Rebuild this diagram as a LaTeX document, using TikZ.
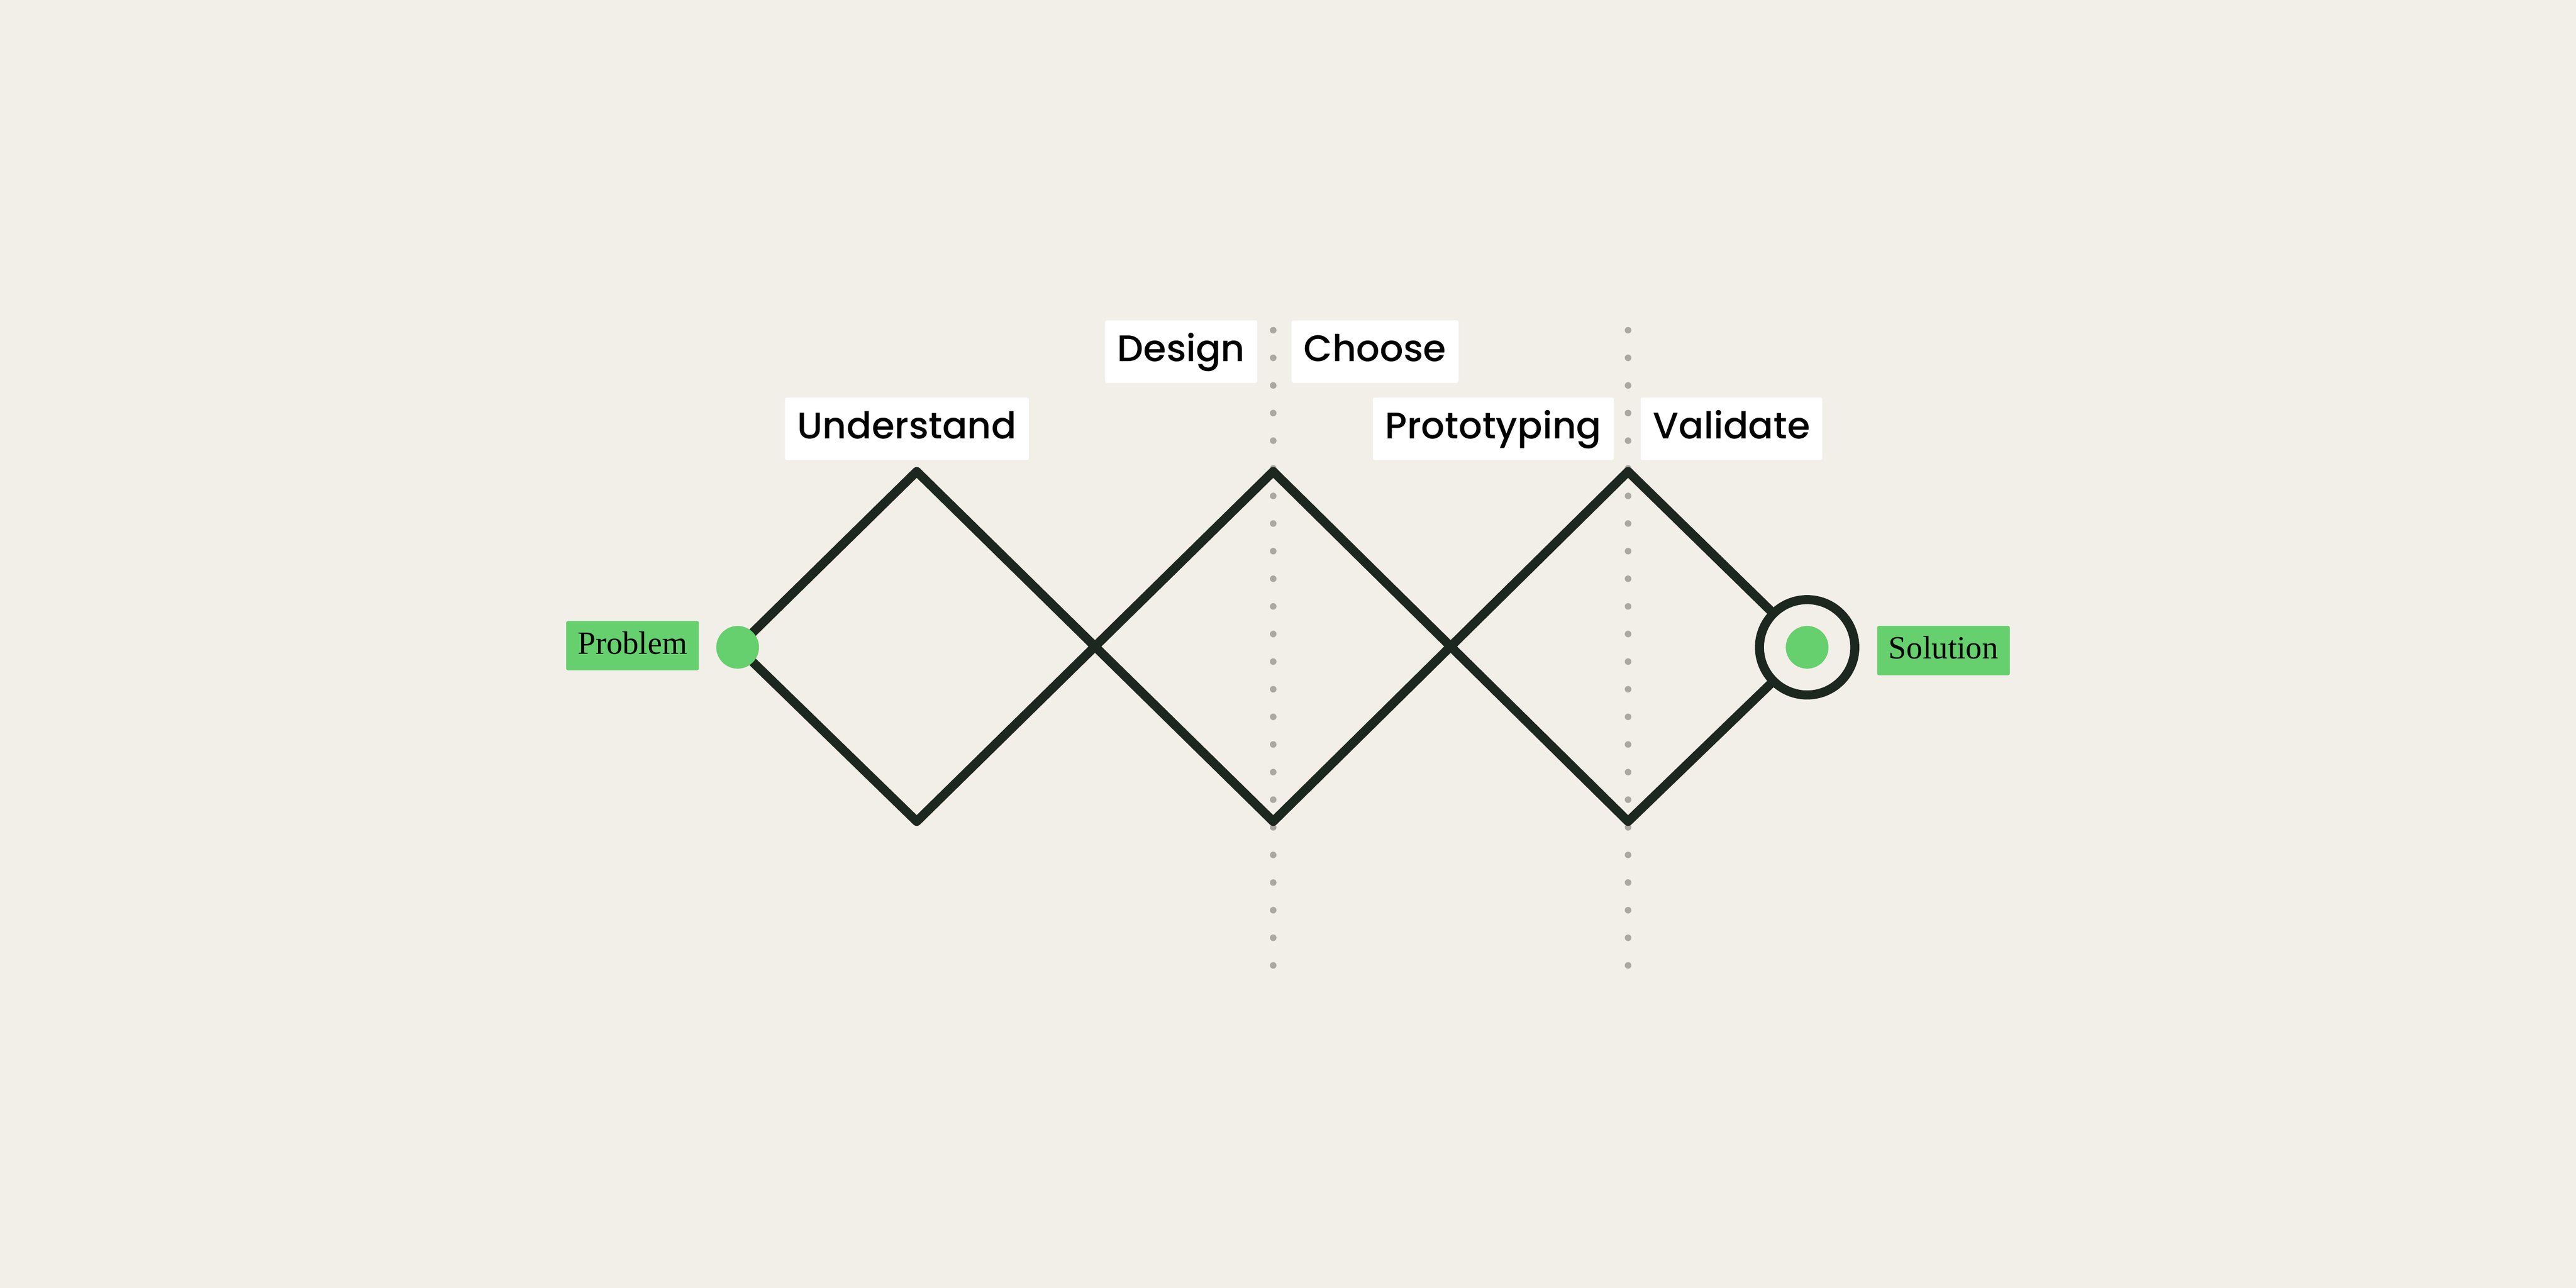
\documentclass[tikz,border=0pt]{standalone}
\usepackage{fontspec}
\newfontfamily\phasefont{Poppins}[UprightFont=* Medium]
\newfontfamily\tagfont{Liberation Serif}
\usepackage{xcolor}
\definecolor{paper}{HTML}{F2EFE8}
\definecolor{ink}{HTML}{1C271F}
\definecolor{leaf}{HTML}{66CF6E}
\definecolor{pebble}{HTML}{ABA8A2}
\tikzset{
  phase/.style={fill=white, rounded corners=0.3pt, inner xsep=0.075cm, inner ysep=0pt, text height=0.16cm, text depth=0.04cm, minimum height=0.38cm, font=\phasefont\fontsize{6.4}{7}\selectfont},
  tag/.style={fill=leaf, rounded corners=0.3pt, inner xsep=0.07cm, inner ysep=0pt, text height=0.13cm, text depth=0.03cm, minimum height=0.30cm, font=\tagfont\fontsize{5.6}{6}\selectfont},
  track/.style={ink, line width=0.055cm, line join=round, line cap=round},
  divider/.style={pebble, line width=0.04cm, line cap=round, dash pattern=on 0pt off 0.168cm}
}
\begin{document}
\begin{tikzpicture}[x=0.01cm, y=-0.01cm]
    \fill[paper] (0,0) rectangle (1568,784);
    \useasboundingbox (0,0) rectangle (1568,784);
    % dotted dividers
    \coordinate (d1t) at (775,201); \coordinate (d1b) at (775,590);
    \coordinate (d2t) at (991,201); \coordinate (d2b) at (991,588);
    \draw[divider] (d1t) -- (d1b);
    \draw[divider] (d2t) -- (d2b);
    % corners of the diamonds
    \coordinate (start) at (449,394);
    \foreach \name/\x in {a/558, b/775, c/991} {
        \coordinate (\name top) at (\x,287);
        \coordinate (\name bot) at (\x,500);
    }
    \node[circle, draw=ink, line width=0.055cm, minimum size=0.58cm, inner sep=0pt] (goal) at (1100,394) {};
    \draw[track] (start) -- (atop) -- (bbot) -- (ctop) -- (goal.135);
    \draw[track] (start) -- (abot) -- (btop) -- (cbot) -- (goal.225);
    % dots
    \fill[leaf] (start) circle (13);
    \fill[leaf] (goal) circle (13);
    % labels
    \node[tag] (problem) at (385,393) {Problem};
    \node[tag] (solution) at (1183,396) {Solution};
    \node[phase] (understand) at (552,261) {Understand};
    \node[phase] (design) at (719,214) {Design};
    \node[phase] (choose) at (837,214) {Choose};
    \node[phase] (proto) at (909,261) {Prototyping};
    \node[phase] (validate) at (1054,261) {Validate};
\end{tikzpicture}
\end{document}
